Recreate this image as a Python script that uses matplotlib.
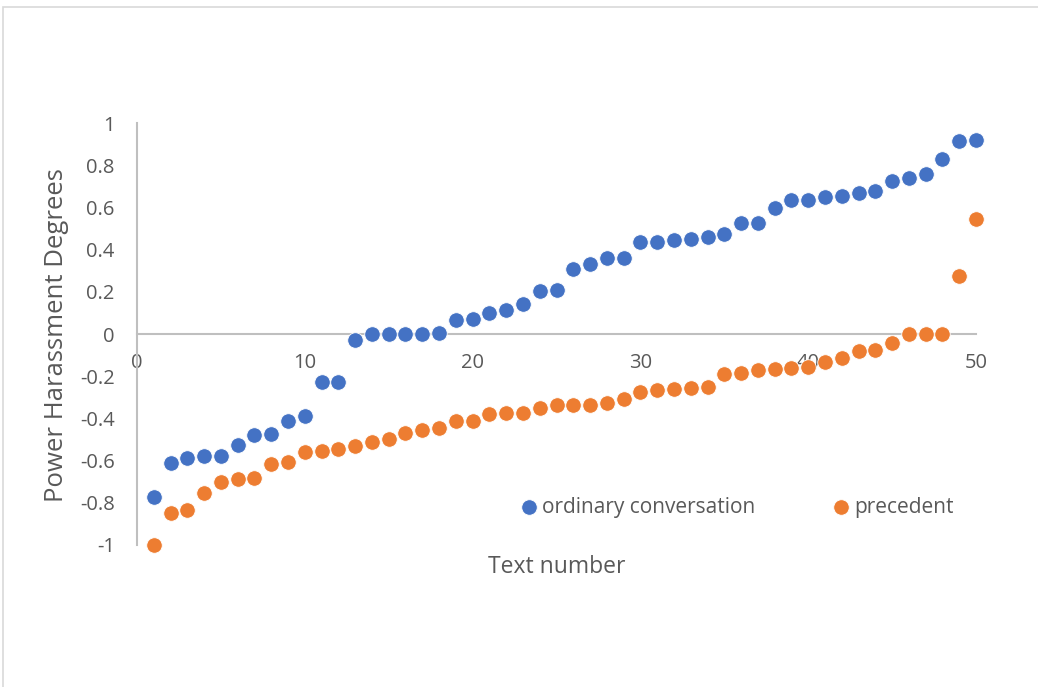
import matplotlib.pyplot as plt
from matplotlib.patches import Rectangle

plt.rcParams['font.family'] = ['Open Sans', 'DejaVu Sans']

# text number 1..50
text_no = list(range(1, 51))

# ordinary conversation scores
ordinary = [-0.773, -0.61, -0.59, -0.578, -0.578, -0.524, -0.477, -0.472, -0.41, -0.39,
            -0.226, -0.226, -0.028, 0.0, 0.0, 0.0, 0.0, 0.005, 0.065, 0.07,
            0.1, 0.115, 0.144, 0.204, 0.21, 0.31, 0.332, 0.36, 0.36, 0.437,
            0.437, 0.444, 0.452, 0.458, 0.472, 0.525, 0.527, 0.596, 0.634, 0.634,
            0.649, 0.652, 0.67, 0.678, 0.725, 0.739, 0.76, 0.828, 0.913, 0.918]

# precedent scores
precedent = [-1.0, -0.85, -0.834, -0.755, -0.703, -0.689, -0.682, -0.615, -0.608, -0.558,
             -0.556, -0.545, -0.532, -0.51, -0.498, -0.468, -0.453, -0.444, -0.41, -0.41,
             -0.38, -0.373, -0.373, -0.349, -0.336, -0.336, -0.336, -0.325, -0.306, -0.275,
             -0.267, -0.259, -0.254, -0.251, -0.191, -0.183, -0.171, -0.166, -0.16, -0.157,
             -0.134, -0.112, -0.082, -0.076, -0.043, 0.0, 0.0, 0.0, 0.276, 0.545]

W, H = 1038, 687
fig = plt.figure(figsize=(W / 100, H / 100), dpi=100)
ax = fig.add_axes([137 / W, 1 - 545 / H, (976 - 137) / W, (545 - 123) / H])

gray = '#595959'
axis_col = '#bfbfbf'

ax.scatter(text_no, ordinary, s=125, color='#4472C4', edgecolors='white', linewidths=0.6,
           clip_on=False, zorder=3, label='ordinary conversation')
ax.scatter(text_no, precedent, s=125, color='#ED7D31', edgecolors='white', linewidths=0.6,
           clip_on=False, zorder=3, label='precedent')

ax.set_xlim(0, 50)
ax.set_ylim(-1, 1)
ax.set_xticks([0, 10, 20, 30, 40, 50])
ax.set_yticks([-1, -0.8, -0.6, -0.4, -0.2, 0, 0.2, 0.4, 0.6, 0.8, 1])
ax.set_yticklabels(['-1', '-0.8', '-0.6', '-0.4', '-0.2', '0', '0.2', '0.4', '0.6', '0.8', '1'])

for s in ['top', 'right']:
    ax.spines[s].set_visible(False)
ax.spines['bottom'].set_position(('data', 0))
ax.spines['bottom'].set_color(axis_col)
ax.spines['left'].set_color(axis_col)
ax.spines['bottom'].set_linewidth(1.5)
ax.spines['left'].set_linewidth(1.5)
ax.tick_params(axis='both', length=0, labelsize=14.5, labelcolor=gray)
ax.tick_params(axis='x', pad=14)
ax.tick_params(axis='y', pad=16)

fig.text(57 / W, 1 - 335 / H, 'Power Harassment Degrees', rotation=90, ha='center', va='center',
         fontsize=18.5, color=gray)
fig.text(557 / W, 1 - 567 / H, 'Text number', ha='center', va='center', fontsize=16.5, color=gray)

fig.legend(loc='center', bbox_to_anchor=(737 / W, 1 - 507 / H), ncol=2, frameon=False,
           fontsize=15, labelcolor=gray, handlelength=0.8, handletextpad=0.25,
           columnspacing=3.7, markerscale=1.0)

fig.patches.append(Rectangle((3 / W, -0.1), 1.2, 1.1 - 7 / H, transform=fig.transFigure,
                             fill=False, edgecolor='#d9d9d9', linewidth=1.2))

fig.savefig('out.png', dpi=100)
